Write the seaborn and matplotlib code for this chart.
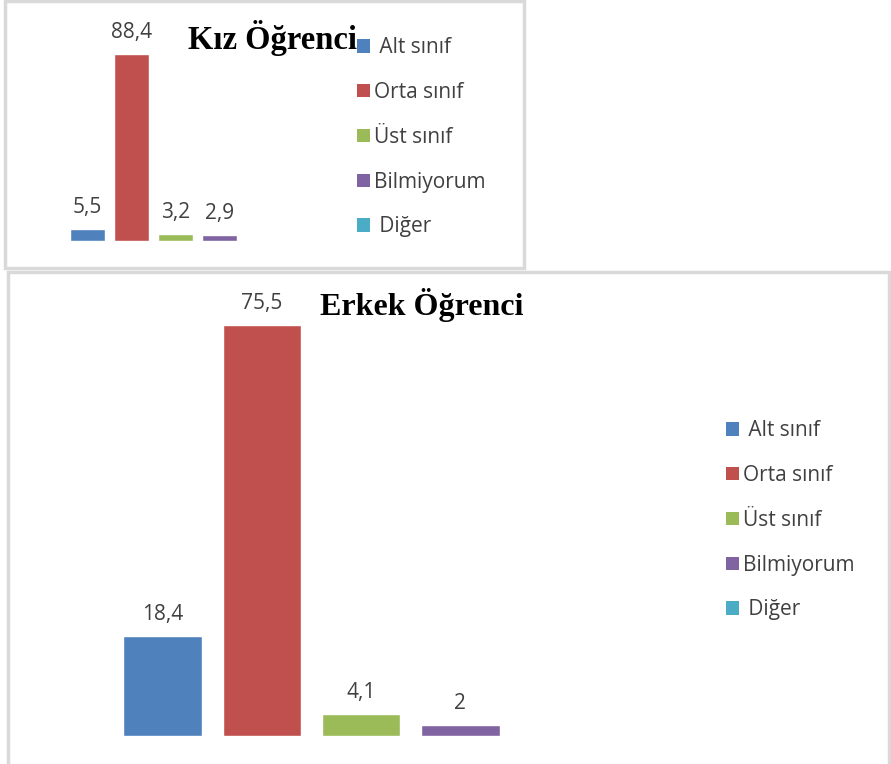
import pandas as pd
import numpy as np
import matplotlib.pyplot as plt
import seaborn as sns
from matplotlib.patches import Patch, Rectangle

# Veriler
kategoriler = ["Alt sınıf", "Orta sınıf", "Üst sınıf", "Bilmiyorum", "Diğer"]
legend_etiket = [" Alt sınıf", "Orta sınıf", "Üst sınıf", "Bilmiyorum", " Diğer"]
kiz_degerler = [5.5, 88.4, 3.2, 2.9, np.nan]
erkek_degerler = [18.4, 75.5, 4.1, 2.0, np.nan]
renkler = ["#4F81BD", "#C0504D", "#9BBB59", "#8064A2", "#4BACC6"]

sns.set_theme(style="white")
plt.rcParams['font.family'] = ['Open Sans', 'DejaVu Sans']

W, H = 891, 764
fig = plt.figure(figsize=(W / 100, H / 100), dpi=100)


def px_axes(x0, y_top, w, h):
    # piksel koordinatlarindan figure oranina
    return fig.add_axes([x0 / W, 1 - (y_top + h) / H, w / W, h / H])


# Cerceveler
gri = "#D9D9D9"
fig.patches.append(Rectangle((5 / W, 1 - 268 / H), 519 / W, 267 / H, transform=fig.transFigure,
                             fill=False, edgecolor=gri, linewidth=2.5))
fig.patches.append(Rectangle((8 / W, -0.05), 881 / W, 1 - 272 / H + 0.05, transform=fig.transFigure,
                             fill=False, edgecolor=gri, linewidth=2.5))


def cubuk_ciz(ax, degerler, genislik, ymax):
    df = pd.DataFrame({"kat": kategoriler, "deger": degerler})
    sns.barplot(data=df, x="kat", y="deger", hue="kat", order=kategoriler, hue_order=kategoriler,
                palette=renkler, width=genislik, legend=False, ax=ax, saturation=1)
    ax.set_xlim(-0.5, 4.5)
    ax.set_ylim(0, ymax)
    for c in ax.containers:
        etiketler = []
        for b in c:
            v = b.get_height()
            etiketler.append("" if np.isnan(v) else f"{v:g}".replace(".", ","))
        ax.bar_label(c, labels=etiketler, padding=8, fontsize=15, color="#404040")
    ax.axis("off")


# Kiz
ax1 = px_axes(65.5, 29.5, 220, 211.5)
cubuk_ciz(ax1, kiz_degerler, 0.8, 100)
fig.text(272 / W, 1 - 38 / H, "Kız Öğrenci", ha="center", va="center", fontsize=23.5,
         fontweight="bold", family="Liberation Serif", color="black")

# Erkek
ax2 = px_axes(112.85, 301, 496.5, 435)
cubuk_ciz(ax2, erkek_degerler, 0.79, 80)
fig.text(422 / W, 1 - 305 / H, "Erkek Öğrenci", ha="center", va="center", fontsize=23,
         fontweight="bold", family="Liberation Serif", color="black")

handles = [Patch(facecolor=r, edgecolor="none") for r in renkler]
for x, y in [(349, 29), (718, 412)]:
    fig.legend(handles, legend_etiket, loc="upper left", bbox_to_anchor=(x / W, 1 - y / H),
               frameon=False, fontsize=15, handlelength=0.6, handleheight=0.6,
               handletextpad=0.2, labelspacing=1.14, labelcolor="#404040", borderaxespad=0)

plt.savefig("out.png", dpi=100)
